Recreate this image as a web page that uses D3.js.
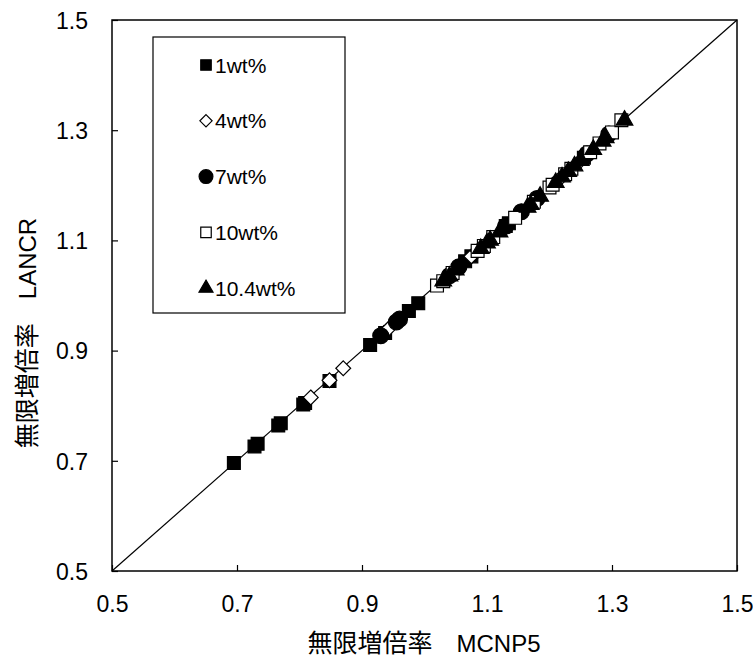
<!DOCTYPE html>
<html><head><meta charset="utf-8">
<script src="https://cdn.jsdelivr.net/npm/d3@7"></script>
<style>body{margin:0;background:#fff}svg{display:block}</style>
</head><body>
<svg id="c" width="753" height="661"></svg>
<script>
// ---- data ----
const tickValues = [0.5, 0.7, 0.9, 1.1, 1.3, 1.5];
const seriesNames = ["1wt%", "4wt%", "7wt%", "10wt%", "10.4wt%"];
const mcnp1  = [0.695,0.728,0.733,0.766,0.770,0.806,0.809,0.848,0.913,0.937,0.975,0.990,1.065,1.075,1.130,1.135,1.255];
const lancr1 = [0.696,0.726,0.731,0.764,0.768,0.802,0.805,0.845,0.910,0.932,0.972,0.986,1.062,1.071,1.126,1.131,1.250];
const mcnp2  = [0.818,0.848,0.870,0.935,0.942,0.958,1.075,1.085,1.205,1.215,1.250];
const lancr2 = [0.815,0.846,0.868,0.932,0.939,0.954,1.071,1.081,1.201,1.210,1.245];
const mcnp3  = [0.930,0.955,0.960,1.040,1.055,1.130,1.155,1.180,1.260,1.295];
const lancr3 = [0.927,0.952,0.957,1.036,1.052,1.126,1.152,1.176,1.257,1.293];
const mcnp4  = [1.020,1.030,1.045,1.085,1.095,1.110,1.145,1.175,1.200,1.205,1.225,1.235,1.265,1.280,1.300,1.315];
const lancr4 = [1.018,1.026,1.041,1.081,1.090,1.106,1.141,1.170,1.196,1.201,1.220,1.230,1.260,1.276,1.296,1.318];
const mcnp5  = [1.030,1.040,1.050,1.090,1.100,1.105,1.120,1.165,1.170,1.185,1.210,1.220,1.230,1.240,1.250,1.270,1.285,1.290,1.320];
const lancr5 = [1.026,1.035,1.046,1.085,1.095,1.100,1.115,1.160,1.165,1.180,1.205,1.215,1.225,1.235,1.245,1.265,1.280,1.286,1.318];
const titleJa = "無限増倍率";
const xTitleEn = "MCNP5";
const yTitleEn = "LANCR";

const series = [
  {name: seriesNames[0], xs: mcnp1, ys: lancr1, shape: "square", fill: "#000"},
  {name: seriesNames[1], xs: mcnp2, ys: lancr2, shape: "diamond", fill: "#fff"},
  {name: seriesNames[2], xs: mcnp3, ys: lancr3, shape: "circle", fill: "#000"},
  {name: seriesNames[3], xs: mcnp4, ys: lancr4, shape: "square", fill: "#fff"},
  {name: seriesNames[4], xs: mcnp5, ys: lancr5, shape: "triangle", fill: "#000"}
];

const svg = d3.select("#c");
const L = 112, R = 737, T = 20, B = 571;
const x = d3.scaleLinear().domain([0.5, 1.5]).range([L, R]);
const y = d3.scaleLinear().domain([0.5, 1.5]).range([B, T]);
const font = "'Liberation Sans',Arial,'Noto Sans CJK JP',sans-serif";
const jfont = "'Noto Sans CJK JP',sans-serif";

// frame
svg.append("rect").attr("x", L).attr("y", T).attr("width", R - L).attr("height", B - T)
  .attr("fill", "none").attr("stroke", "#000").attr("stroke-width", 1.5);

// axes with inward ticks
const xAxis = d3.axisBottom(x).tickValues(tickValues).tickSize(-6).tickFormat(d3.format(".1f"));
const gx = svg.append("g").attr("transform", `translate(0,${B})`).call(xAxis);
const yAxis = d3.axisLeft(y).tickValues(tickValues).tickSize(-6).tickFormat(d3.format(".1f"));
const gy = svg.append("g").attr("transform", `translate(${L},0)`).call(yAxis);
[gx, gy].forEach(g => {
  g.select(".domain").remove();
  g.selectAll("line").attr("stroke", "#000").attr("stroke-width", 1.2);
  g.selectAll("text").attr("font-family", font).attr("font-size", 23).attr("fill", "#000");
});
gx.selectAll("text").attr("y", 41).attr("dy", 0);
gy.selectAll("text").attr("x", -24).attr("dy", "0.36em");

// diagonal
svg.append("line").attr("x1", x(0.5)).attr("y1", y(0.5)).attr("x2", x(1.5)).attr("y2", y(1.5))
  .attr("stroke", "#000").attr("stroke-width", 1.2);

function symbolPath(shape, size) {
  const t = {square: d3.symbolSquare, diamond: d3.symbolDiamond2, circle: d3.symbolCircle, triangle: d3.symbolTriangle}[shape];
  return d3.symbol().type(t).size(size)();
}
const sizes = {square: 165, diamond: 140, circle: 200, triangle: 120};
const legendSizes = {square: 110, diamond: 95, circle: 150, triangle: 85};

series.forEach(s => {
  svg.append("g").selectAll("path").data(s.xs.map((v, i) => [v, s.ys[i]])).join("path")
    .attr("d", symbolPath(s.shape, sizes[s.shape]))
    .attr("transform", d => `translate(${x(d[0])},${y(d[1])})`)
    .attr("fill", s.fill).attr("stroke", "#000").attr("stroke-width", 1.2);
});

// legend
const lg = svg.append("g");
lg.append("rect").attr("x", 153).attr("y", 37).attr("width", 192).attr("height", 276)
  .attr("fill", "#fff").attr("stroke", "#000").attr("stroke-width", 1.2);
series.forEach((s, i) => {
  const cy = 65 + i * 55.8;
  lg.append("path").attr("d", symbolPath(s.shape, legendSizes[s.shape]))
    .attr("transform", `translate(206,${cy})`)
    .attr("fill", s.fill).attr("stroke", "#000").attr("stroke-width", 1.2);
  lg.append("text").attr("x", 215).attr("y", cy).attr("dy", "0.36em")
    .attr("font-family", font).attr("font-size", 21).text(s.name);
});

// titles
function title(sel, en) {
  sel.append("tspan").attr("font-family", jfont).attr("font-size", 25).text(titleJa);
  sel.append("tspan").attr("dx", 24).attr("font-family", font).attr("font-size", 24).text(en);
}
const xt = svg.append("text").attr("x", 424).attr("y", 646).attr("dy", "0.36em").attr("text-anchor", "middle");
title(xt, xTitleEn);
const yt = svg.append("text").attr("transform", "translate(30,333) rotate(-90)").attr("dy", "0.36em").attr("text-anchor", "middle");
title(yt, yTitleEn);
</script>
</body></html>
